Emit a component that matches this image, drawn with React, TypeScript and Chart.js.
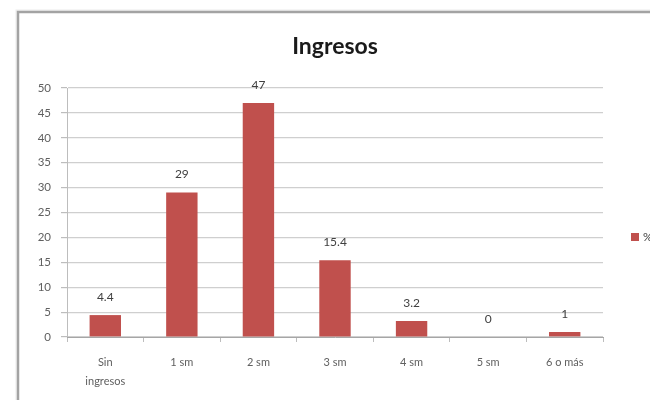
import React, { useEffect, useRef } from "react";
import { Chart, registerables } from "chart.js";

Chart.register(...registerables);

const categories: (string | string[])[] = [
  ["Sin", "ingresos"],
  "1 sm",
  "2 sm",
  "3 sm",
  "4 sm",
  "5 sm",
  "6 o más",
];
const percentValues = [4.4, 29, 47, 15.4, 3.2, 0, 1];
const seriesName = "%";
const chartTitle = "Ingresos";

const BAR_COLOR = "#c0504d";
const TEXT_COLOR = "#606060";
const FONT = "Lato, 'Open Sans', sans-serif";

// White card with a grey frame, like an office chart object
const framePlugin = {
  id: "frame",
  beforeDraw(chart: any) {
    const { ctx, width, height } = chart;
    ctx.save();
    ctx.fillStyle = "#ffffff";
    ctx.fillRect(0, 0, width, height);
    ctx.strokeStyle = "#a3a3a3";
    ctx.lineWidth = 2.5;
    ctx.strokeRect(18, 12, width + 20, height + 20);
    ctx.strokeStyle = "rgba(0,0,0,0.08)";
    ctx.lineWidth = 1;
    ctx.strokeRect(16, 10, width + 24, height + 24);
    ctx.restore();
  },
};

// Title, value labels over bars and the legend entry on the right
const decorPlugin = {
  id: "decor",
  afterDatasetsDraw(chart: any) {
    const { ctx } = chart;
    ctx.save();
    ctx.fillStyle = "#1a1a1a";
    ctx.font = `bold 23px ${FONT}`;
    ctx.textAlign = "center";
    ctx.textBaseline = "middle";
    ctx.fillText(chartTitle, 335, 47);

    const meta = chart.getDatasetMeta(0);
    ctx.font = `12px ${FONT}`;
    ctx.fillStyle = "#404040";
    meta.data.forEach((bar: any, i: number) => {
      ctx.fillText(String(percentValues[i]), bar.x, bar.y - 18);
    });

    ctx.fillStyle = BAR_COLOR;
    ctx.fillRect(631, 233, 8, 8);
    ctx.fillStyle = "#404040";
    ctx.textAlign = "left";
    ctx.font = `12px ${FONT}`;
    ctx.fillText(seriesName, 643, 237);
    ctx.restore();
  },
};

export default function App() {
  const canvasRef = useRef<HTMLCanvasElement | null>(null);

  useEffect(() => {
    document.body.style.margin = "0";
    const canvas = canvasRef.current;
    if (!canvas) return;
    const chart = new Chart(canvas, {
      type: "bar",
      data: {
        labels: categories,
        datasets: [
          {
            label: seriesName,
            data: percentValues,
            backgroundColor: BAR_COLOR,
            borderWidth: 0,
            categoryPercentage: 1,
            barPercentage: 0.41,
          },
        ],
      },
      options: {
        animation: false,
        responsive: false,
        maintainAspectRatio: false,
        layout: { padding: { top: 88, right: 47, bottom: 0, left: 0 } },
        plugins: {
          legend: { display: false },
          title: { display: false },
          tooltip: { enabled: false },
        },
        scales: {
          y: {
            min: 0,
            max: 50,
            ticks: {
              stepSize: 5,
              color: TEXT_COLOR,
              font: { family: FONT, size: 11.5 },
              padding: 10,
            },
            grid: {
              color: "#cfcfcf",
              lineWidth: 1.2,
              tickLength: 6,
              tickColor: "#bdbdbd",
            },
            border: { display: true, color: "#bdbdbd" },
            afterFit(scale: any) {
              scale.width = 67;
            },
          },
          x: {
            ticks: {
              color: TEXT_COLOR,
              font: { family: FONT, size: 11, lineHeight: 1.7 },
              padding: 11,
              maxRotation: 0,
              autoSkip: false,
            },
            grid: {
              display: true,
              offset: true,
              drawOnChartArea: false,
              tickLength: 5,
              tickColor: "#bdbdbd",
            },
            border: { display: true, color: "#a6a6a6" },
            afterFit(scale: any) {
              scale.height = 63;
            },
          },
        },
      },
      plugins: [framePlugin, decorPlugin],
    });
    return () => chart.destroy();
  }, []);

  return (
    <div style={{ width: 650, height: 400 }}>
      <canvas ref={canvasRef} width={650} height={400} style={{ display: "block" }} />
    </div>
  );
}
